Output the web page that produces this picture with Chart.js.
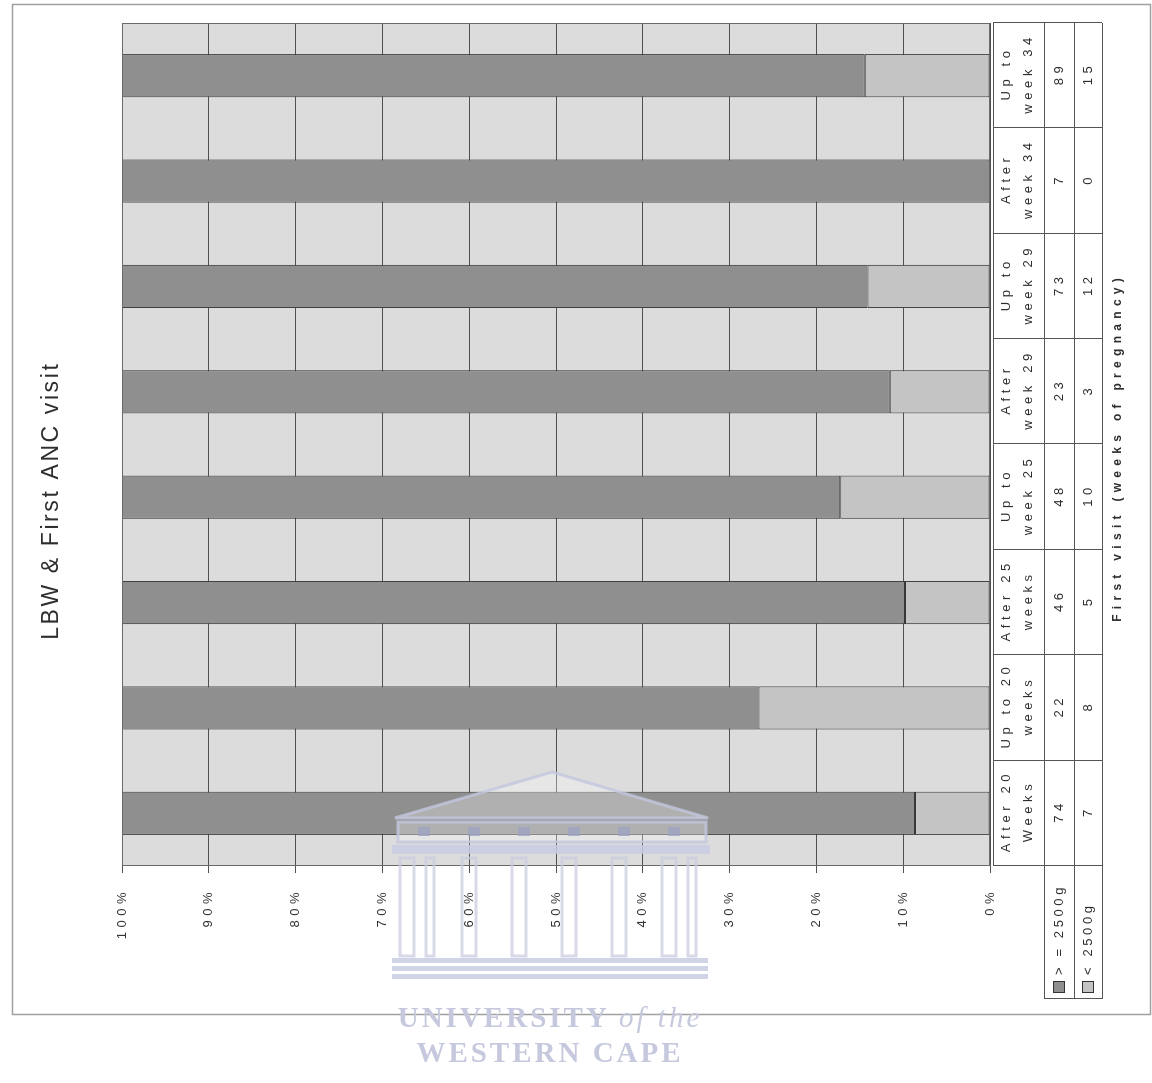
<!DOCTYPE html>
<html>
<head>
<meta charset="utf-8">
<script src="https://cdn.jsdelivr.net/npm/chart.js@4.4.1/dist/chart.umd.min.js"></script>
<style>
  html, body { margin: 0; padding: 0; background: #fff; overflow: hidden; }
  body { width: 1152px; height: 1083px; position: relative; }
  /* the chart is drawn upright, then turned on its side like the scanned page */
  #wrap { position: absolute; left: 0; top: 0; width: 1083px; height: 1152px;
          transform-origin: 0 0; transform: translateY(1083px) rotate(-90deg); }
  #logo { position: absolute; left: 0; top: 0; }
  .mark { position: absolute; left: 0; width: 1100px; text-align: center;
          font-family: "Liberation Serif", "DejaVu Serif", serif; font-weight: bold;
          color: #c6c9de; letter-spacing: 3px; font-size: 29px; }
</style>
</head>
<body>
<div id="wrap"><canvas id="chartLbw" width="1083" height="1152"></canvas></div>
<svg id="logo" width="1152" height="1083">
  <g fill="#ffffff" fill-opacity="0.3" stroke="#c3c7de" stroke-opacity="0.8" stroke-width="3">
    <polygon points="395,818 552,772 708,818" />
    <rect x="398" y="822" width="308" height="20" />
  </g>
  <g fill="none" stroke="#c9cce2" stroke-opacity="0.75" stroke-width="3">
    <rect x="400" y="858" width="14" height="98" />
    <rect x="426" y="858" width="8" height="98" />
    <rect x="462" y="858" width="14" height="98" />
    <rect x="512" y="858" width="14" height="98" />
    <rect x="562" y="858" width="14" height="98" />
    <rect x="612" y="858" width="14" height="98" />
    <rect x="662" y="858" width="14" height="98" />
    <rect x="688" y="858" width="8" height="98" />
  </g>
  <g fill="#c9cce2" fill-opacity="0.85">
    <rect x="392" y="845" width="318" height="9" />
    <rect x="392" y="958" width="316" height="5" />
    <rect x="392" y="966" width="316" height="5" />
    <rect x="392" y="974" width="316" height="5" />
  </g>
  <g fill="#9ea3c2" fill-opacity="0.8">
    <rect x="418" y="827" width="12" height="9" />
    <rect x="468" y="827" width="12" height="9" />
    <rect x="518" y="827" width="12" height="9" />
    <rect x="568" y="827" width="12" height="9" />
    <rect x="618" y="827" width="12" height="9" />
    <rect x="668" y="827" width="12" height="9" />
  </g>
</svg>
<div class="mark" style="top:1001px">UNIVERSITY <i style="font-weight:normal">of the</i></div>
<div class="mark" style="top:1036px">WESTERN CAPE</div>
<script>
const categories = [
  ["After 20", "Weeks"], ["Up to 20", "weeks"], ["After 25", "weeks"], ["Up to", "week 25"],
  ["After", "week 29"], ["Up to", "week 29"], ["After", "week 34"], ["Up to", "week 34"]
];
const normalWeight = [74, 22, 46, 48, 23, 73, 7, 89];  // >=2500g
const lowWeight = [7, 8, 5, 10, 3, 12, 0, 15];         // <2500g
const seriesNames = ["> = 2500g", "< 2500g"];
const titleText = "LBW & First ANC visit";
const axisTitle = "First visit (weeks of pregnancy)";

// 100% stacked: share of each group within its category
const totals = normalWeight.map((v, i) => v + lowWeight[i]);
const normalPct = normalWeight.map((v, i) => v / totals[i] * 100);
const lowPct = lowWeight.map((v, i) => v / totals[i] * 100);

const FONT = '"Liberation Sans", Arial, sans-serif';
const darkFill = "#8f8f8f";
const lightFill = "#c4c4c4";

function label(ctx, s, x, y, font, spacing, align) {
  ctx.font = font;
  ctx.letterSpacing = spacing + "px";
  ctx.textAlign = align;
  ctx.textBaseline = "middle";
  ctx.fillStyle = "#2e2e2e";
  // trailing letter spacing shifts centred text, push it back
  const dx = align === "center" ? spacing / 2 : 0;
  ctx.fillText(s, x + dx, y);
}

const pagePlugin = {
  id: "page",
  beforeDraw(chart) {
    const { ctx, chartArea: a } = chart;
    ctx.save();
    ctx.fillStyle = "#dcdcdc";
    ctx.fillRect(a.left, a.top, a.right - a.left, a.bottom - a.top);
    ctx.restore();
    ctx.letterSpacing = "4.5px";
  },
  afterDraw(chart) {
    const { ctx, chartArea: a } = chart;
    const xs = chart.scales.x;
    const cw = (a.right - a.left) / categories.length;
    ctx.save();

    // plot border
    ctx.strokeStyle = "#6a6a6a";
    ctx.lineWidth = 1;
    ctx.strokeRect(a.left + 0.5, a.top + 0.5, a.right - a.left - 1, a.bottom - a.top - 1);

    // outer frame
    ctx.strokeStyle = "#a0a0a0";
    ctx.lineWidth = 1.5;
    ctx.strokeRect(68.5, 12.5, 1010, 1138);

    // data table
    const r0 = a.bottom + 3, r1 = a.bottom + 54, r2 = a.bottom + 84, r3 = a.bottom + 112;
    const legLeft = 84;
    ctx.strokeStyle = "#555";
    ctx.lineWidth = 1;
    ctx.beginPath();
    [r1, r2, r3].forEach(v => { ctx.moveTo(legLeft, v + 0.5); ctx.lineTo(a.right, v + 0.5); });
    ctx.moveTo(a.left, r0 + 0.5); ctx.lineTo(a.right, r0 + 0.5);
    for (let i = 0; i <= categories.length; i++) {
      const u = Math.round(a.left + i * cw) + 0.5;
      ctx.moveTo(u, r0); ctx.lineTo(u, r3);
    }
    ctx.moveTo(legLeft + 0.5, r1); ctx.lineTo(legLeft + 0.5, r3);
    ctx.stroke();

    categories.forEach((c, i) => {
      const u = xs.getPixelForValue(i);
      label(ctx, c[0], u, r0 + 13, "13px " + FONT, 4.6, "center");
      label(ctx, c[1], u, r0 + 35, "13px " + FONT, 4.6, "center");
      label(ctx, String(normalWeight[i]), u, (r1 + r2) / 2, "13px " + FONT, 4.6, "center");
      label(ctx, String(lowWeight[i]), u, (r2 + r3) / 2, "13px " + FONT, 4.6, "center");
    });

    // legend keys inside the table
    [[r1, r2, darkFill], [r2, r3, lightFill]].forEach(([t, b, fill], k) => {
      const mid = (t + b) / 2;
      ctx.fillStyle = fill;
      ctx.fillRect(90, mid - 6, 12, 12);
      ctx.strokeStyle = "#333";
      ctx.strokeRect(90.5, mid - 5.5, 11, 11);
      label(ctx, seriesNames[k], 108, mid, "13px " + FONT, 3.6, "left");
    });

    // titles
    label(ctx, titleText, 581, 52, "23px " + FONT, 2.6, "center");
    label(ctx, axisTitle, 633, 1118, "bold 12px " + FONT, 5.3, "center");
    ctx.restore();
  }
};

new Chart(document.getElementById("chartLbw"), {
  type: "bar",
  data: {
    labels: categories.map(c => c.join(" ")),
    datasets: [
      { label: seriesNames[1], data: lowPct, backgroundColor: lightFill },
      { label: seriesNames[0], data: normalPct, backgroundColor: darkFill }
    ]
  },
  options: {
    responsive: false,
    animation: false,
    layout: { padding: { left: 117, right: 23, top: 122, bottom: 162 } },
    datasets: {
      bar: {
        categoryPercentage: 1,
        barPercentage: 0.41,
        borderColor: "#383838",
        borderWidth: 1,
        borderSkipped: false
      }
    },
    plugins: { legend: { display: false }, title: { display: false }, tooltip: { enabled: false } },
    scales: {
      x: { stacked: true, display: false },
      y: {
        stacked: true,
        min: 0,
        max: 100,
        afterFit: (s) => { s.width = 100; },
        ticks: {
          stepSize: 10,
          padding: 15,
          color: "#333",
          font: { family: FONT, size: 13 },
          callback: (v) => v + "%"
        },
        grid: { color: "#505050", lineWidth: 1, tickLength: 7, drawTicks: true },
        border: { display: true, color: "#6a6a6a" }
      }
    }
  },
  plugins: [pagePlugin]
});
</script>
</body>
</html>
